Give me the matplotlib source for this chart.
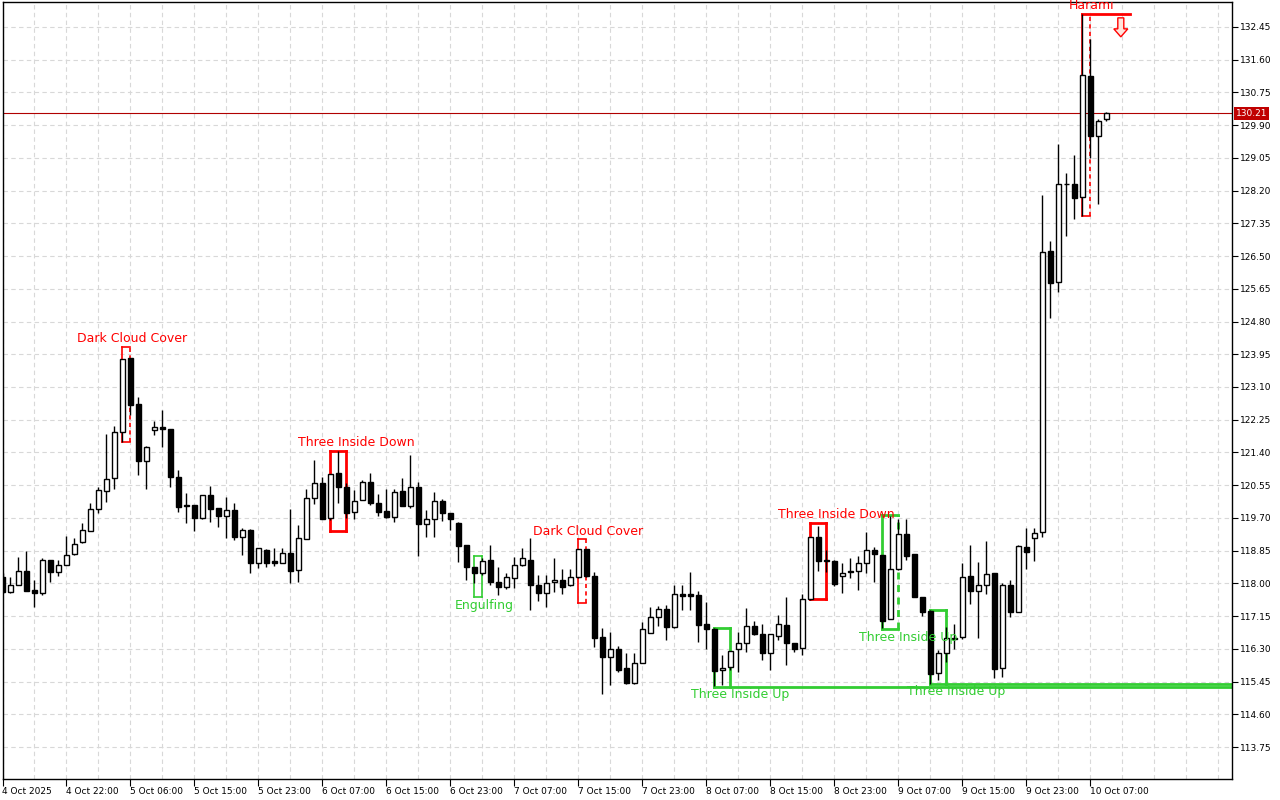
import matplotlib
matplotlib.use("Agg")
import matplotlib.pyplot as plt
from matplotlib.patches import Rectangle, Polygon
from matplotlib.transforms import blended_transform_factory

# hourly bars, 4 Oct 2025 .. 10 Oct 2025
opens = [118.17, 117.77, 117.97, 118.32, 117.83, 117.76, 118.62, 118.29, 118.49, 118.76,
         119.08, 119.37, 119.92, 120.41, 120.73, 121.92, 123.84, 122.66, 121.18, 121.98,
         122.05, 122.01, 120.77, 120.03, 120.03, 119.70, 120.29, 119.96, 119.75, 119.90,
         119.21, 119.38, 118.52, 118.87, 118.59, 118.54, 118.78, 118.35, 119.14, 120.21,
         120.60, 119.69, 120.86, 120.50, 119.85, 120.16, 120.64, 120.08, 119.88, 119.73,
         120.40, 120.02, 120.50, 119.54, 119.67, 120.15, 119.82, 119.56, 119.00, 118.43,
         118.26, 118.61, 118.04, 117.90, 118.13, 118.48, 118.62, 117.96, 117.74, 118.04,
         118.10, 117.96, 118.17, 118.89, 118.19, 116.60, 116.08, 116.29, 115.79, 115.42,
         115.92, 116.72, 117.13, 117.33, 116.86, 117.72, 117.72, 117.70, 116.94, 116.81,
         115.75, 115.82, 116.29, 116.46, 116.89, 116.68, 116.19, 116.64, 116.91, 116.46,
         116.31, 117.60, 119.20, 118.61, 118.59, 118.19, 118.31, 118.31, 118.54, 118.87,
         118.74, 117.07, 118.37, 119.28, 118.76, 117.65, 117.28, 115.68, 116.20, 116.55,
         116.60, 118.19, 117.81, 117.97, 118.26, 115.79, 117.97, 117.25, 118.94, 119.17,
         119.33, 126.63, 125.82, 128.36, 128.36, 128.04, 131.18, 129.63, 130.05]
highs = [118.26, 118.17, 118.68, 118.85, 118.09, 118.67, 118.62, 118.61, 119.23, 119.19,
         119.56, 120.09, 120.51, 121.88, 122.09, 123.83, 123.84, 122.83, 121.57, 122.22,
         122.50, 122.01, 120.94, 120.36, 120.03, 120.29, 120.54, 119.96, 120.25, 120.08,
         119.43, 119.40, 118.91, 118.89, 118.91, 118.93, 119.93, 119.52, 120.45, 121.20,
         120.77, 120.84, 121.44, 120.60, 120.42, 120.68, 120.87, 120.32, 120.44, 120.44,
         120.74, 121.33, 120.64, 119.90, 120.38, 120.19, 119.82, 119.60, 119.00, 118.43,
         118.66, 119.00, 118.43, 118.26, 118.68, 118.91, 119.19, 118.22, 118.22, 118.65,
         118.37, 118.37, 118.89, 118.89, 118.30, 116.83, 116.74, 116.37, 116.18, 116.19,
         117.00, 117.38, 117.41, 117.44, 117.96, 117.96, 118.30, 117.81, 117.52, 116.84,
         116.14, 116.25, 116.74, 117.35, 117.03, 116.94, 116.68, 117.18, 117.64, 116.46,
         117.72, 119.20, 119.49, 118.87, 118.62, 118.52, 118.65, 118.71, 119.33, 118.95,
         118.74, 119.75, 119.67, 119.67, 118.76, 117.65, 117.32, 116.28, 116.87, 116.94,
         118.54, 119.00, 118.56, 119.10, 118.28, 118.00, 118.10, 119.00, 119.43, 119.43,
         128.09, 126.89, 129.41, 128.67, 129.13, 132.79, 132.13, 130.05, 130.25]
lows = [117.74, 117.74, 117.97, 117.81, 117.39, 117.70, 118.03, 118.20, 118.49, 118.75,
        119.04, 119.37, 119.83, 120.12, 120.45, 121.67, 122.37, 120.81, 120.45, 121.85,
        121.55, 120.51, 119.86, 119.57, 119.37, 119.66, 119.60, 119.47, 119.17, 119.13,
        118.74, 118.28, 118.41, 118.43, 118.45, 118.52, 118.02, 118.04, 119.14, 120.05,
        119.67, 119.64, 120.09, 119.71, 119.66, 120.16, 120.03, 119.75, 119.71, 119.60,
        120.02, 119.97, 118.71, 119.21, 119.21, 119.63, 119.38, 118.56, 118.09, 118.00,
        118.22, 117.96, 117.71, 117.85, 117.87, 118.45, 117.31, 117.55, 117.39, 117.78,
        117.72, 117.93, 118.14, 118.17, 116.35, 115.13, 115.36, 115.71, 115.40, 115.39,
        115.92, 116.70, 116.89, 116.53, 116.83, 117.31, 117.31, 116.48, 116.29, 115.33,
        115.36, 115.75, 115.71, 116.23, 116.66, 116.01, 115.75, 116.53, 115.88, 116.23,
        116.14, 117.58, 118.33, 118.30, 117.93, 117.76, 118.13, 117.83, 118.27, 118.04,
        116.84, 117.07, 118.36, 118.61, 117.64, 117.15, 115.38, 115.49, 115.97, 116.29,
        116.55, 117.46, 116.57, 117.72, 115.53, 115.57, 117.12, 117.25, 118.37, 118.59,
        119.20, 124.90, 125.57, 127.03, 127.46, 127.54, 129.04, 127.84, 130.02]
closes = [117.78, 117.97, 118.32, 117.81, 117.74, 118.62, 118.29, 118.49, 118.75, 119.02,
          119.38, 119.92, 120.42, 120.70, 121.94, 123.83, 122.63, 121.18, 121.53, 122.05,
          122.00, 120.75, 119.99, 120.01, 119.71, 120.29, 119.94, 119.76, 119.90, 119.21,
          119.38, 118.54, 118.91, 118.54, 118.54, 118.78, 118.31, 119.17, 120.21, 120.60,
          119.67, 120.84, 120.50, 119.82, 120.15, 120.64, 120.08, 119.86, 119.73, 120.38,
          120.02, 120.49, 119.53, 119.67, 120.15, 119.82, 119.67, 118.98, 118.42, 118.26,
          118.59, 118.04, 117.90, 118.16, 118.47, 118.65, 117.96, 117.74, 118.02, 118.10,
          117.91, 118.16, 118.89, 118.19, 116.57, 116.08, 116.29, 115.75, 115.42, 115.92,
          116.81, 117.13, 117.33, 116.86, 117.72, 117.68, 117.68, 116.92, 116.81, 115.73,
          115.81, 116.25, 116.46, 116.89, 116.68, 116.19, 116.68, 116.94, 116.46, 116.30,
          117.60, 119.20, 118.59, 118.58, 117.98, 118.28, 118.29, 118.54, 118.87, 118.76,
          117.03, 118.37, 119.28, 118.72, 117.65, 117.26, 115.64, 116.19, 116.57, 116.57,
          118.16, 117.81, 117.97, 118.24, 115.78, 117.97, 117.25, 118.97, 118.82, 119.32,
          126.60, 125.81, 128.36, 128.36, 128.02, 131.20, 129.63, 130.02, 130.21]

time_labels = ["4 Oct 2025", "4 Oct 22:00", "5 Oct 06:00", "5 Oct 15:00", "5 Oct 23:00",
               "6 Oct 07:00", "6 Oct 15:00", "6 Oct 23:00", "7 Oct 07:00", "7 Oct 15:00",
               "7 Oct 23:00", "8 Oct 07:00", "8 Oct 15:00", "8 Oct 23:00", "9 Oct 07:00",
               "9 Oct 15:00", "9 Oct 23:00", "10 Oct 07:00"]
price_ticks = [113.75, 114.60, 115.45, 116.30, 117.15, 118.00, 118.85, 119.70, 120.55,
               121.40, 122.25, 123.10, 123.95, 124.80, 125.65, 126.50, 127.35, 128.20,
               129.05, 129.90, 130.75, 131.60, 132.45]
last_price = 130.21

# candlestick patterns found
pat_names = ["Dark Cloud Cover", "Three Inside Down", "Engulfing", "Dark Cloud Cover",
             "Three Inside Up", "Three Inside Down", "Three Inside Up", "Three Inside Up", "Harami"]
pat_start = [15, 41, 59, 72, 89, 101, 110, 116, 135]
pat_end = [16, 43, 60, 73, 91, 103, 112, 118, 136]
pat_top = [124.13, 121.44, 118.70, 119.14, 116.83, 119.58, 119.78, 117.32, 132.79]
pat_bottom = [121.67, 119.37, 117.65, 117.48, 115.32, 117.59, 116.81, 115.40, 127.54]
pat_bull = [False, False, True, False, True, False, True, True, False]
pat_dash_right = [True, False, False, True, False, False, True, False, True]
pat_extend = [False, False, False, False, True, False, False, True, False]

RED = "#ff0000"
GREEN = "#32cd32"
GRID = "#d8d8d8"

fig = plt.figure(figsize=(12.8, 8), dpi=100)
ax = fig.add_axes([2.5 / 1280, 21 / 800, 1229.5 / 1280, 776.7 / 800])
x0, x1 = 0.0, 153.7
y0, y1 = 112.92, 133.09
ax.set_xlim(x0, x1)
ax.set_ylim(y0, y1)

# grid
for b in range(0, 154, 4):
    ax.axvline(b, color=GRID, lw=0.8, ls=(0, (4, 3)), zorder=0)
for p in price_ticks:
    ax.axhline(p, color=GRID, lw=0.8, ls=(0, (4, 3)), zorder=0)

# patterns
for k in range(len(pat_names)):
    c = GREEN if pat_bull[k] else RED
    s, e = pat_start[k], pat_end[k]
    t, btm = pat_top[k], pat_bottom[k]
    lw = 2.0 if e - s >= 2 else 1.2
    top_end = e + 5 if pat_names[k] == "Harami" else e
    ax.plot([s, top_end], [t, t], color=c, lw=lw if pat_names[k] != "Harami" else 2.0, zorder=2)
    bot_end = x1 if pat_extend[k] else e
    ax.plot([s, bot_end], [btm, btm], color=c, lw=lw, zorder=2)
    ax.plot([s, s], [btm, t], color=c, lw=lw, zorder=2)
    ax.plot([e, e], [btm, t], color=c, lw=lw, zorder=2,
            ls=(0, (2.5, 2)) if pat_dash_right[k] else "-")
    lx = e + 0.2 + (e - s - 1)
    if pat_bull[k]:
        ax.annotate(pat_names[k], (lx, btm), xytext=(0, -6), textcoords="offset points",
                    ha="center", va="center", color=c, fontsize=9, zorder=5)
    else:
        ax.annotate(pat_names[k], (lx, t), xytext=(0, 6), textcoords="offset points",
                    ha="center", va="center", color=c, fontsize=9, zorder=5)

# sell arrow next to Harami
bar_px = 1229.5 / (x1 - x0)
pr_px = 776.7 / (y1 - y0)
k = pat_names.index("Harami")
ax_c = pat_end[k] + 3.8
ay = pat_top[k] - 4 / pr_px
shape = [(-3, 0), (3, 0), (3, -11), (7, -11), (0, -19), (-7, -11), (-3, -11)]
arrow = Polygon([(ax_c + dx / bar_px, ay + dy / pr_px) for dx, dy in shape], closed=True,
                fc="#ffe4dc", ec=RED, lw=1, zorder=5)
ax.add_patch(arrow)

# current price line
ax.axhline(last_price, color="#b00000", lw=0.8, zorder=1)

# candles
w = 0.6
for i in range(len(opens)):
    o, h, l, c = opens[i], highs[i], lows[i], closes[i]
    ax.plot([i, i], [l, h], color="black", lw=1, zorder=3, solid_capstyle="butt")
    lo = min(o, c)
    hgt = max(abs(c - o), 0.005)
    fc = "white" if c >= o else "black"
    ax.add_patch(Rectangle((i - w / 2, lo), w, hgt, fc=fc, ec="black", lw=1, zorder=4))

# axes styling
for side in ["left", "right", "top", "bottom"]:
    ax.spines[side].set_color("black")
    ax.spines[side].set_linewidth(1)
ax.yaxis.tick_right()
ax.set_yticks(price_ticks)
ax.set_yticklabels([f"{p:.2f}" for p in price_ticks], fontsize=6.5)
ax.tick_params(axis="y", direction="out", length=4, width=0.8, pad=2)
ax.set_xticks(range(0, 8 * len(time_labels), 8))
ax.set_xticklabels(time_labels, fontsize=6.5, ha="left")
ax.tick_params(axis="x", direction="out", length=5, width=0.8, pad=1)

ax.annotate(f"{last_price:.2f}", xy=(1.0, last_price), xycoords=("axes fraction", "data"),
            xytext=(3, 0), textcoords="offset points", ha="left", va="center",
            fontsize=6.5, color="white",
            bbox=dict(boxstyle="square,pad=0.2", fc="#c00000", ec="none"))

fig.savefig("out.png", dpi=100)
